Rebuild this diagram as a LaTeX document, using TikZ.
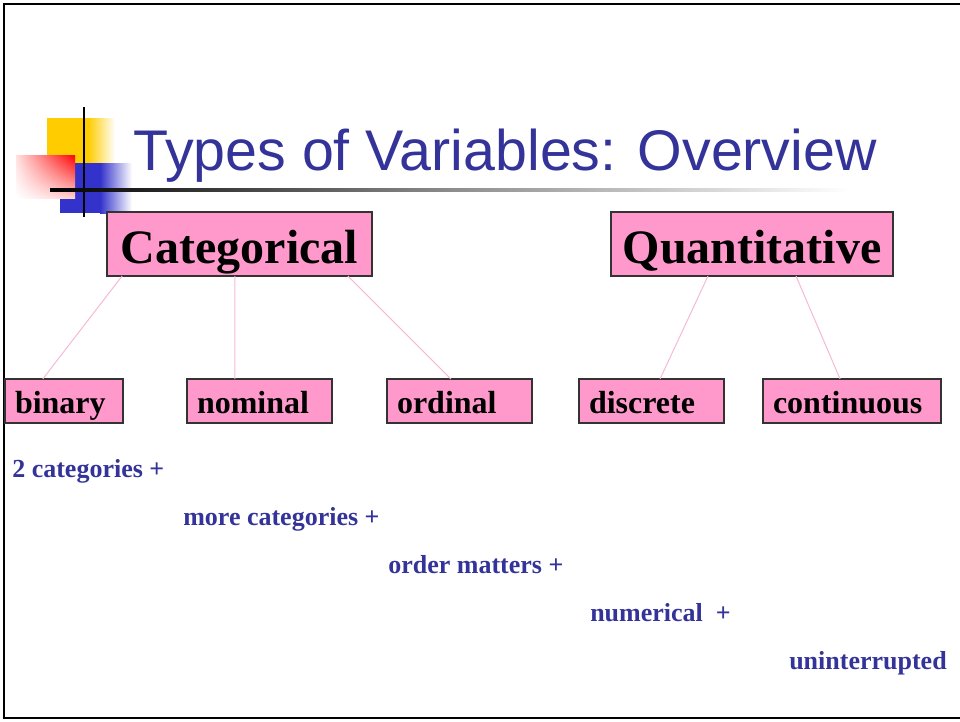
\documentclass[tikz,border=0pt]{standalone}
\usepackage{fontspec}
\setmainfont{Liberation Serif}
\newfontfamily\titlefont{Liberation Sans}
\usetikzlibrary{calc,shadings}
\definecolor{boxpink}{HTML}{FF99CC}
\definecolor{linkpink}{HTML}{F5B8D6}
\definecolor{slideblue}{HTML}{333399}
\definecolor{sqyellow}{HTML}{FFCC00}
\definecolor{sqblue}{HTML}{3333CC}

\begin{document}
\begin{tikzpicture}[x=0.75pt,y=-0.75pt,
  topbox/.style={draw=black!80,fill=boxpink,line width=0.8pt,inner sep=0pt,outer sep=0pt,text height=30pt,text depth=1.5pt,font=\fontsize{36}{40}\selectfont\bfseries},
  leaf/.style={draw=black!80,fill=boxpink,line width=0.8pt,inner xsep=7.5pt,inner ysep=0pt,outer sep=0pt,minimum height=33pt,text height=20pt,text depth=2pt,anchor=west,align=left,font=\fontsize{24}{28}\selectfont\bfseries},
  link/.style={linkpink,line width=0.75pt},
  note/.style={anchor=base west,inner sep=0pt,text=slideblue,font=\fontsize{19.5}{22}\selectfont\bfseries}]
\useasboundingbox (0,0) rectangle (960,721);
% slide frame
\draw[line width=2.2pt] (960,4) -- (4,4) -- (4,718) -- (960,718);
% corner squares
\fill[sqyellow] (47,118) rectangle (88,163);
\shade[left color=sqyellow,right color=white] (88,118) rectangle (115,163);
\fill[sqblue] (60,163) rectangle (100,213);
\shade[left color=sqblue,right color=white] (100,163) rectangle (132,213);
\shade[upper right=red,upper left=red!12,lower right=red!18,lower left=white] (16,155) rectangle (75,198);
\draw[line width=2.2pt] (84,107) -- (84,217);
\shade[left color=black,right color=white,middle color=black!45] (50,188.5) rectangle (850,191.5);
\node[anchor=base west,inner sep=0pt,text=slideblue,font=\titlefont\fontsize{43}{48}\selectfont] (title) at (133,170) {Types of Variables: Overview};

\node[topbox,minimum width=198.75pt,minimum height=48pt] (cat) at (239.5,244) {Categorical};
\node[topbox,minimum width=211.5pt,minimum height=48pt] (qua) at (752,244) {Quantitative};
\foreach \n/\x/\w/\t in {bin/5/73.5/binary,nom/187/93.75/nominal,ord/387/93.75/ordinal,dis/579/93.75/discrete,con/763/118.5/continuous}
  \node[leaf,text width=\w pt] (\n) at (\x,401) {\t};
\foreach \a/\fa/\b/\fb in {cat/.057/bin/.32,cat/.483/nom/.33,cat/.909/ord/.44,qua/.344/dis/.559,qua/.656/con/.433}
  \draw[link] ($(\a.south west)!\fa!(\a.south east)$) -- ($(\b.north west)!\fb!(\b.north east)$);

\node[note] (two) at (12,477) {2 categories +};
\node[note] (more) at (183,525) {more categories +};
\node[note] (order) at (388,573) {order matters +};
\node[note] (num) at (590,621) {numerical\ \ +};
\node[note] (unint) at (789,669) {uninterrupted};
\end{tikzpicture}
\end{document}
